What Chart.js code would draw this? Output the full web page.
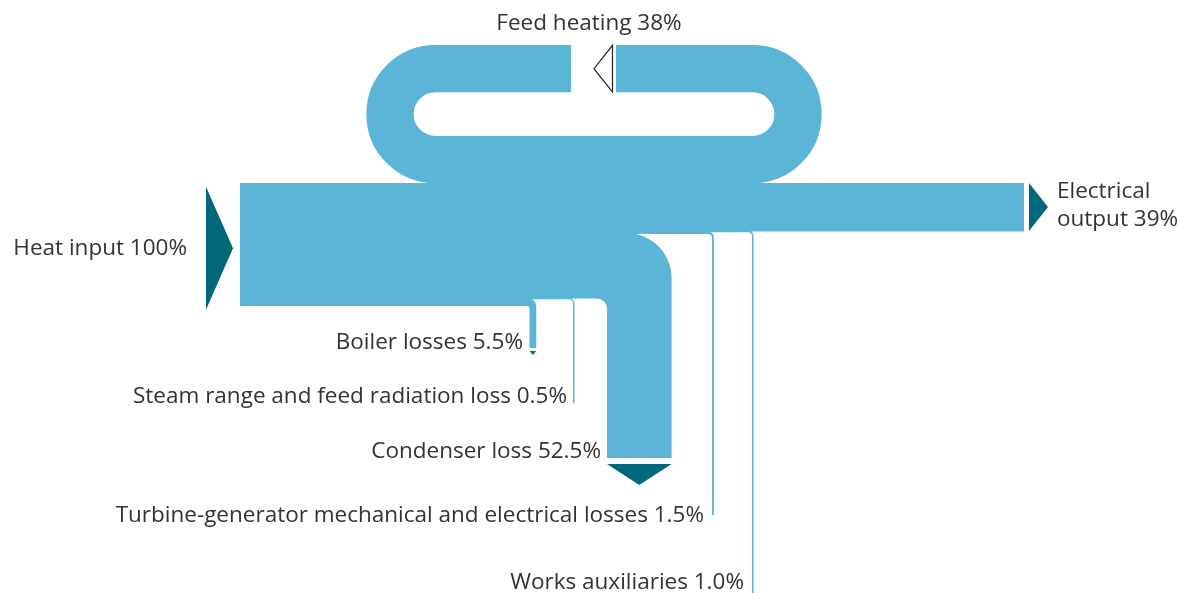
<!DOCTYPE html>
<html>
<head>
<meta charset="utf-8">
<script src="https://cdn.jsdelivr.net/npm/chart.js@4.4.1/dist/chart.umd.min.js"></script>
<style>
  html, body { margin: 0; padding: 0; background: #fff; }
</style>
</head>
<body>
<canvas id="sankey" width="1178" height="593"></canvas>
<script>
// Power station heat balance (Sankey). Values in % of heat input.

const heatInput = 100;
const feedHeating = 38;
const electricalOutput = 39;

// losses, listed from the bottom of the trunk upwards (= left to right)
const lossValues = [5.5, 0.5, 52.5, 1.5, 1.0];
const lossLabels = [
	'Boiler losses 5.5%',
	'Steam range and feed radiation loss 0.5%',
	'Condenser loss 52.5%',
	'Turbine-generator mechanical and electrical losses 1.5%',
	'Works auxiliaries 1.0%'
];
const heatLabel = 'Heat input 100%';
const feedLabel = 'Feed heating 38%';
const outputLabel = ['Electrical', 'output 39%'];

// -----------------------------
// layout (pixels); the scales run in "percent" units so band widths come from the data
// -----------------------------
const K = 1.23;                 // px per percent point
const L = px => px / K;         // px -> scale units
const W = 1178, H = 593;

const trunkLeft = 240, trunkRight = 1024, trunkTop = 183;
const dropLeft = [529.5, 573, 607, 712, 752];
const dropEnd = [348, 403, 458, 515, 593];
const outerR = [8, 6, 45, 6, 6];
const innerR = [3, 4, 10, 4, 4];
const arrowGap = [3, 0, 6, 0, 0];
const arrowDepth = [4, 0, 21, 0, 0];
const labelRight = [523, 567, 601, 704, 744];
const labelBase = [349, 403, 458, 522, 589];

const ringLeftC = 435.5, ringRightC = 752.5, ringR = 45.5, gapLeft = 571, gapRight = 616;

const BLUE = '#5bb5d6';
const TEAL = '#00687b';
const TEXT = '#333333';

const sankeyPlugin = {
	id: 'sankeyBands',
	afterDraw(chart) {
		const ctx = chart.ctx;
		const xs = chart.scales.x, ys = chart.scales.y;
		const X = v => xs.getPixelForValue(v);
		const Y = v => ys.getPixelForValue(v);
		const y0 = L(trunkTop);

		ctx.save();
		ctx.fillStyle = BLUE;

		// electrical output: top slice of the trunk
		const eTop = Y(y0), eBot = Y(y0 + electricalOutput);
		ctx.fillRect(X(L(trunkLeft)), eTop, X(L(trunkRight)) - X(L(trunkLeft)), eBot - eTop + 0.5);

		// losses peel off the bottom of the trunk (drawn 1px taller to hide seams)
		let bottom = heatInput;
		lossValues.forEach((v, i) => {
			const top = bottom - v;
			const yTop = Y(y0 + top) - 1, yBot = Y(y0 + bottom);
			const xL = X(L(dropLeft[i]));
			let xR = X(L(dropLeft[i]) + v);
			if (xR - xL < 1.5) xR = xL + 1.5;
			const yEnd = dropEnd[i];
			const ro = outerR[i], ri = innerR[i];

			ctx.beginPath();
			ctx.moveTo(X(L(trunkLeft)), yTop);
			ctx.lineTo(xR - ro, yTop);
			ctx.arc(xR - ro, yTop + ro, ro, -Math.PI / 2, 0);
			ctx.lineTo(xR, yEnd);
			ctx.lineTo(xL, yEnd);
			ctx.lineTo(xL, yBot + ri);
			ctx.arc(xL - ri, yBot + ri, ri, 0, -Math.PI / 2, true);
			ctx.lineTo(X(L(trunkLeft)), yBot);
			ctx.closePath();
			ctx.fill();

			if (arrowDepth[i] > 0) {
				const ay = yEnd + arrowGap[i];
				ctx.fillStyle = TEAL;
				ctx.beginPath();
				ctx.moveTo(xL, ay);
				ctx.lineTo(xR, ay);
				ctx.lineTo((xL + xR) / 2, ay + arrowDepth[i]);
				ctx.closePath();
				ctx.fill();
				ctx.fillStyle = BLUE;
			}
			bottom = top;
		});

		// feed heating loop (recirculates on top of the trunk)
		const fw = Y(y0) - Y(y0 - feedHeating);
		const cyBot = Y(y0 - feedHeating / 2);
		const cyTop = cyBot - 2 * ringR;
		const cyMid = cyBot - ringR;
		ctx.strokeStyle = BLUE;
		ctx.lineWidth = fw + 0.6;
		ctx.lineCap = 'butt';
		ctx.beginPath();
		ctx.moveTo(gapRight, cyTop);
		ctx.lineTo(ringRightC, cyTop);
		ctx.arc(ringRightC, cyMid, ringR, -Math.PI / 2, Math.PI / 2);
		ctx.lineTo(ringLeftC, cyBot);
		ctx.arc(ringLeftC, cyMid, ringR, Math.PI / 2, Math.PI * 1.5);
		ctx.lineTo(gapLeft, cyTop);
		ctx.stroke();

		// open arrow in the gap of the loop
		ctx.fillStyle = '#fff';
		ctx.strokeStyle = '#222';
		ctx.lineWidth = 1.2;
		ctx.beginPath();
		ctx.moveTo(612.5, cyTop - fw / 2);
		ctx.lineTo(612.5, cyTop + fw / 2);
		ctx.lineTo(594, cyTop);
		ctx.closePath();
		ctx.fill();
		ctx.stroke();

		// heat input arrow
		ctx.fillStyle = TEAL;
		const hTop = Y(y0 + 3), hBot = Y(y0 + heatInput + 3);
		ctx.beginPath();
		ctx.moveTo(206, hTop);
		ctx.lineTo(233, (hTop + hBot) / 2);
		ctx.lineTo(206, hBot);
		ctx.closePath();
		ctx.fill();

		// electrical output arrow
		ctx.beginPath();
		ctx.moveTo(1029, eTop);
		ctx.lineTo(1048, (eTop + eBot) / 2);
		ctx.lineTo(1029, eBot);
		ctx.closePath();
		ctx.fill();

		// labels
		ctx.fillStyle = TEXT;
		ctx.font = '22.5px "Open Sans"';
		ctx.textBaseline = 'alphabetic';
		ctx.textAlign = 'right';
		lossLabels.forEach((t, i) => ctx.fillText(t, labelRight[i], labelBase[i]));
		ctx.fillText(heatLabel, 187, 255);
		ctx.textAlign = 'left';
		ctx.fillText(outputLabel[0], 1057, 198);
		ctx.fillText(outputLabel[1], 1057, 226);
		ctx.textAlign = 'center';
		ctx.fillText(feedLabel, 589, 30);
		ctx.restore();
	}
};

new Chart(document.getElementById('sankey'), {
	type: 'scatter',
	data: { datasets: [{ data: [] }] },
	options: {
		responsive: false,
		animation: false,
		layout: { padding: 0 },
		plugins: { legend: { display: false }, tooltip: { enabled: false } },
		scales: {
			x: { type: 'linear', display: false, min: 0, max: L(W) },
			y: { type: 'linear', display: false, min: 0, max: L(H), reverse: true }
		}
	},
	plugins: [sankeyPlugin]
});
</script>
</body>
</html>
